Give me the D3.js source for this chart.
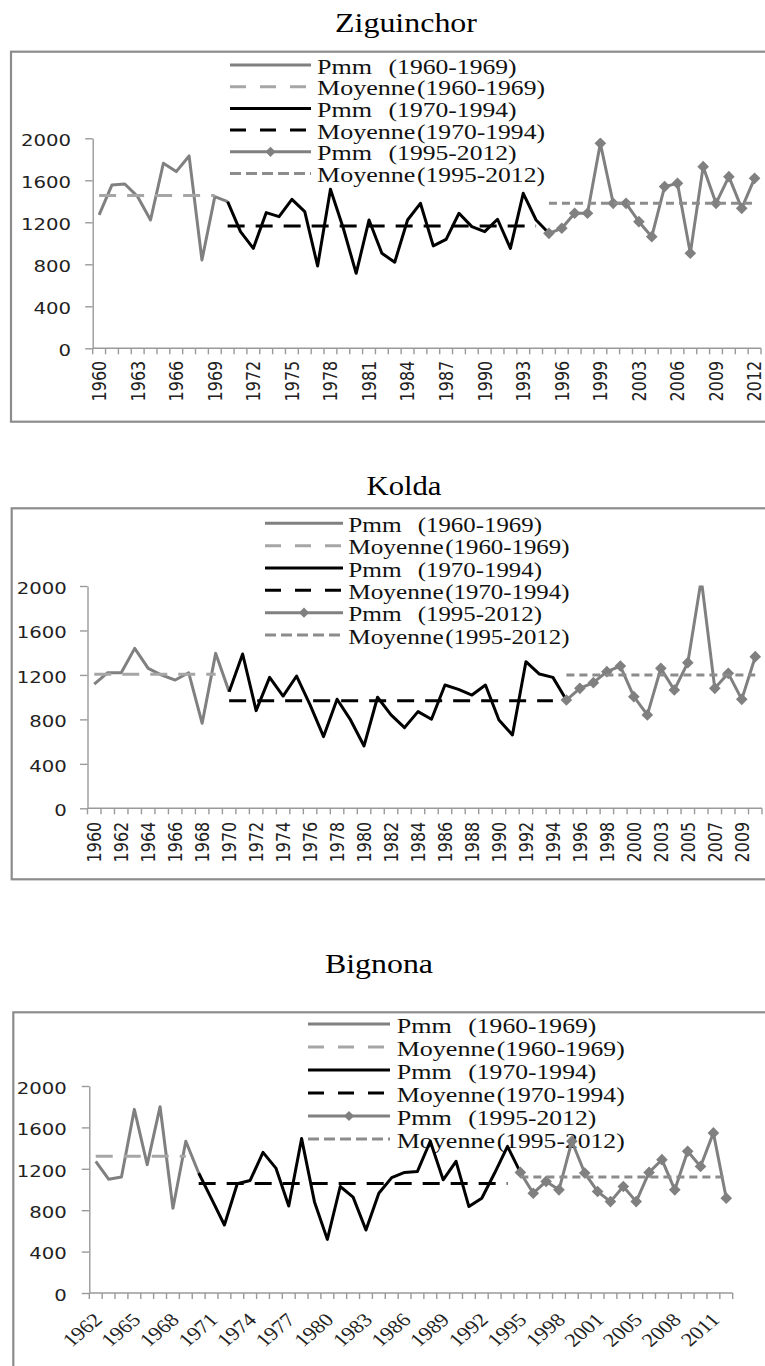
<!DOCTYPE html>
<html><head><meta charset="utf-8">
<script src="https://cdn.jsdelivr.net/npm/d3@7"></script>
<style>body{margin:0;background:#fff}svg{display:block}</style>
</head><body><svg id="c" width="765" height="1366"></svg>
<script>
// ---------- DATA ----------
const yTicks = [0, 400, 800, 1200, 1600, 2000];
const legendLabels = ["Pmm", "Moyenne", "Pmm", "Moyenne", "Pmm", "Moyenne"];
const legendPeriods = ["(1960-1969)", "(1960-1969)", "(1970-1994)", "(1970-1994)", "(1995-2012)", "(1995-2012)"];

const zigYears = [1960,1961,1962,1963,1964,1965,1966,1967,1968,1969,1970,1971,1972,1973,1974,1975,1976,1977,1978,1979,1980,1981,1982,1983,1984,1985,1986,1987,1988,1989,1990,1991,1992,1993,1994,1995,1996,1997,1998,1999,2000,2001,2003,2004,2005,2006,2007,2008,2009,2010,2011,2012];
const zigPmm = [1270,1556,1565,1444,1222,1762,1683,1832,841,1444,
  1397,1111,952,1292,1254,1419,1302,784,1514,1143,
  714,1222,905,820,1222,1381,975,1038,1286,1159,
  1111,1229,952,1476,1222,1095,1143,1286,1286,1952,
  1381,1381,
  1206,1063,1540,1571,905,1730,1381,1635,1333,1619];
const zigMeans = [1455, 1165, 1381];
const zigLabels = [1960,1963,1966,1969,1972,1975,1978,1981,1984,1987,1990,1993,1996,1999,2003,2006,2009,2012];

const koldaYears = [1960,1961,1962,1963,1964,1965,1966,1967,1968,1969,1970,1971,1972,1973,1974,1975,1976,1977,1978,1979,1980,1981,1982,1983,1984,1985,1986,1987,1988,1989,1990,1991,1992,1993,1994,1995,1996,1997,1998,1999,2000,2001,2003,2004,2005,2006,2007,2008,2009,2010];
const koldaPmm = [1118,1220,1220,1439,1259,1199,1154,1220,765,1394,
  1049,1388,879,1178,1010,1190,930,645,981,795,
  561,999,840,726,870,801,1109,1070,1019,1109,
  795,660,1319,1208,1178,974,1079,1130,1229,1280,
  1004,840,
  1259,1064,1310,2060,1079,1214,980,1364];
const koldaMeans = [1205, 968, 1199];
const koldaLabels = [1960,1962,1964,1966,1968,1970,1972,1974,1976,1978,1980,1982,1984,1986,1988,1990,1992,1994,1996,1998,2000,2003,2005,2007,2009];

const bignonaYears = [1962,1963,1964,1965,1966,1967,1968,1969,1970,1971,1972,1973,1974,1975,1976,1977,1978,1979,1980,1981,1982,1983,1984,1985,1986,1987,1988,1989,1990,1991,1992,1993,1994,1995,1996,1997,1998,1999,2000,2001,2003,2004,2005,2006,2007,2008,2009,2010,2011,2012];
const bignonaPmm = [1272,1100,1120,1774,1240,1800,819,1466,
  1159,910,657,1055,1087,1359,1207,841,1492,880,
  518,1029,926,608,964,1115,1165,1175,1466,1094,
  1272,835,916,1159,1417,1165,964,1078,997,1466,
  1159,981,
  883,1029,883,1165,1288,997,1369,1223,1547,916];
const bignonaMeans = [1322, 1058, 1120];
const bignonaLabels = [1962,1965,1968,1971,1974,1977,1980,1983,1986,1989,1992,1995,1998,2001,2005,2008,2011];

// ---------- STYLES / LAYOUT ----------
const GRAY = "#808080", LGRAY = "#a6a6a6", MGRAY = "#8c8c8c", AX = "#9a9a9a";
const styles = [
  {stroke: GRAY, w: 3, dash: null},
  {stroke: LGRAY, w: 3, dash: "17,11"},
  {stroke: "#000", w: 3, dash: null},
  {stroke: "#000", w: 3, dash: "17,11"},
  {stroke: GRAY, w: 3, dash: null, marker: true},
  {stroke: MGRAY, w: 3, dash: "8,5"}
];
const legendDash = [null, "16,14", null, "16,14", null, "11,5"];

const panels = [
  {title: "Ziguinchor", years: zigYears, vals: zigPmm, means: zigMeans, labels: zigLabels,
   tCx: 406, tBase: 31.7, tW: 142, box: [11, 51.7, 421.7],
   L: 92.7, R: 761, yTop: 138.3, yBot: 348.3, ylGap: 21.7, xlGap: 12.4, rot: -90,
   lg: {x0: 230, x1: 311, tx: 317, y0: 65, step: 21.7, s: 1.0}},
  {title: "Kolda", years: koldaYears, vals: koldaPmm, means: koldaMeans, labels: koldaLabels,
   tCx: 404, tBase: 495, tW: 75, box: [11.7, 508.3, 879.3],
   L: 87.5, R: 762, yTop: 586, yBot: 808.3, ylGap: 20.8, xlGap: 13.4, rot: -90,
   lg: {x0: 265, x1: 343, tx: 348.3, y0: 523.3, step: 22.35, s: 0.97}},
  {title: "Bignona", years: bignonaYears, vals: bignonaPmm, means: bignonaMeans, labels: bignonaLabels,
   tCx: 379, tBase: 972.7, tW: 108, box: [13.3, 1012.3, 1420],
   L: 89.3, R: 732.7, yTop: 1086, yBot: 1293, ylGap: 22.6, xlGap: 28, rot: -45,
   lg: {x0: 308, x1: 390, tx: 396.7, y0: 1024, step: 23, s: 1.0}}
];

const svg = d3.select("#c");
const SERIF = "'Liberation Serif','Times New Roman',serif";
const SANS = "'DejaVu Sans',Verdana,sans-serif";

panels.forEach((p, pi) => {
  const g = svg.append("g");
  // frame
  g.append("rect").attr("x", p.box[0]).attr("y", p.box[1])
    .attr("width", 820 - p.box[0]).attr("height", p.box[2] - p.box[1])
    .attr("fill", "none").attr("stroke", MGRAY).attr("stroke-width", 2.2);
  // title
  g.append("text").attr("x", p.tCx - p.tW / 2).attr("y", p.tBase)
    .attr("font-family", SERIF).attr("font-size", 28)
    .attr("textLength", p.tW).attr("lengthAdjust", "spacingAndGlyphs")
    .text(p.title);

  const xb = d3.scaleBand().domain(p.years).range([p.L, p.R]).paddingInner(0).paddingOuter(0);
  const bw = xb.bandwidth();
  const cx = yr => xb(yr) + bw / 2;
  const y = d3.scaleLinear().domain([0, 2000]).range([p.yBot, p.yTop]);

  // y axis
  const ya = g.append("g").attr("transform", `translate(${p.L},0)`)
    .call(d3.axisLeft(y).tickValues(yTicks).tickSize(7.5).tickSizeOuter(0).tickFormat(d3.format("d")));
  ya.select(".domain").attr("stroke", AX).attr("stroke-width", 1.4);
  ya.selectAll(".tick line").attr("stroke", AX).attr("stroke-width", 1.4);
  ya.selectAll(".tick text").attr("x", 0).attr("dy", "0.45em")
    .attr("transform", `translate(${-p.ylGap},0) scale(1.23,1)`)
    .attr("font-family", SANS).attr("font-size", 16).attr("fill", "#222");

  // x axis line and boundary ticks
  g.append("line").attr("x1", p.L).attr("x2", p.R).attr("y1", p.yBot).attr("y2", p.yBot)
    .attr("stroke", AX).attr("stroke-width", 1.4);
  const bounds = p.years.map(yr => xb(yr)).concat([p.R]);
  g.selectAll(null).data(bounds).join("line")
    .attr("x1", d => d).attr("x2", d => d).attr("y1", p.yBot).attr("y2", p.yBot + 6)
    .attr("stroke", AX).attr("stroke-width", 1.4);
  // x labels
  g.selectAll(null).data(p.labels).join("text")
    .attr("text-anchor", "end")
    .attr("font-family", p.rot === -90 ? SANS : SERIF)
    .attr("font-size", p.rot === -90 ? 16 : 19)
    .attr("fill", "#222")
    .attr("dy", p.rot === -90 ? "0.35em" : 0)
    .attr("transform", d => p.rot === -90
      ? `translate(${cx(d)},${p.yBot + p.xlGap}) scale(1.23,1) rotate(-90)`
      : `translate(${cx(d) + 7.6},${p.yBot + p.xlGap}) scale(1.18,1) rotate(-45)`)
    .text(d => d);

  // legend
  const lg = p.lg;
  legendLabels.forEach((lab, i) => {
    const ly = lg.y0 + i * lg.step, st = styles[i];
    g.append("line").attr("x1", lg.x0).attr("x2", lg.x1).attr("y1", ly).attr("y2", ly)
      .attr("stroke", st.stroke).attr("stroke-width", st.w)
      .attr("stroke-dasharray", legendDash[i]);
    if (st.marker) {
      g.append("path").attr("d", d3.symbol(d3.symbolSquare, 52)())
        .attr("transform", `translate(${(lg.x0 + lg.x1) / 2},${ly}) rotate(45)`)
        .attr("fill", GRAY);
    }
    const isP = lab === "Pmm";
    g.append("text").attr("x", lg.tx).attr("y", ly + 8.6)
      .attr("font-family", SERIF).attr("font-size", 21).attr("fill", "#111")
      .attr("textLength", (isP ? 55 : 98.3) * lg.s).attr("lengthAdjust", "spacingAndGlyphs")
      .text(lab);
    g.append("text").attr("x", lg.tx + (isP ? 71.6 : 100) * lg.s).attr("y", ly + 8.6)
      .attr("font-family", SERIF).attr("font-size", 21).attr("fill", "#111")
      .attr("textLength", 128 * lg.s).attr("lengthAdjust", "spacingAndGlyphs")
      .text(legendPeriods[i]);
  });

  // clip
  const cid = "clip" + pi;
  svg.append("clipPath").attr("id", cid).append("rect")
    .attr("x", p.L - 10).attr("y", p.yTop - 0.5).attr("width", p.R - p.L + 20).attr("height", p.yBot - p.yTop + 10);
  const plot = g.append("g").attr("clip-path", `url(#${cid})`);

  const pts = p.years.map((yr, i) => ({yr, v: p.vals[i]}));
  const first = p.years[0], last = p.years[p.years.length - 1];
  const seg1 = pts.filter(d => d.yr <= 1970);
  const seg2 = pts.filter(d => d.yr >= 1970 && d.yr <= 1995);
  const seg3 = pts.filter(d => d.yr >= 1995);
  const line = d3.line().x(d => cx(d.yr)).y(d => y(d.v));
  const meanLine = (a, b, m) => [{yr: a, v: m}, {yr: b, v: m}];
  const m1 = meanLine(first, 1969, p.means[0]);
  const m2 = meanLine(1970, 1994, p.means[1]);
  const m3 = meanLine(1995, last, p.means[2]);
  const drawLine = (data, st) => plot.append("path").datum(data).attr("d", line)
    .attr("fill", "none").attr("stroke", st.stroke).attr("stroke-width", st.w)
    .attr("stroke-linejoin", "round").attr("stroke-dasharray", st.dash);

  drawLine(seg1, styles[0]);
  drawLine(m1, styles[1]);
  drawLine(seg2, styles[2]);
  drawLine(m2, styles[3]);
  drawLine(seg3, styles[4]);
  plot.selectAll(null).data(seg3).join("path")
    .attr("d", d3.symbol(d3.symbolSquare, 68)())
    .attr("transform", d => `translate(${cx(d.yr)},${y(d.v)}) rotate(45)`)
    .attr("fill", GRAY);
  drawLine(m3, styles[5]);
});
</script></body></html>
